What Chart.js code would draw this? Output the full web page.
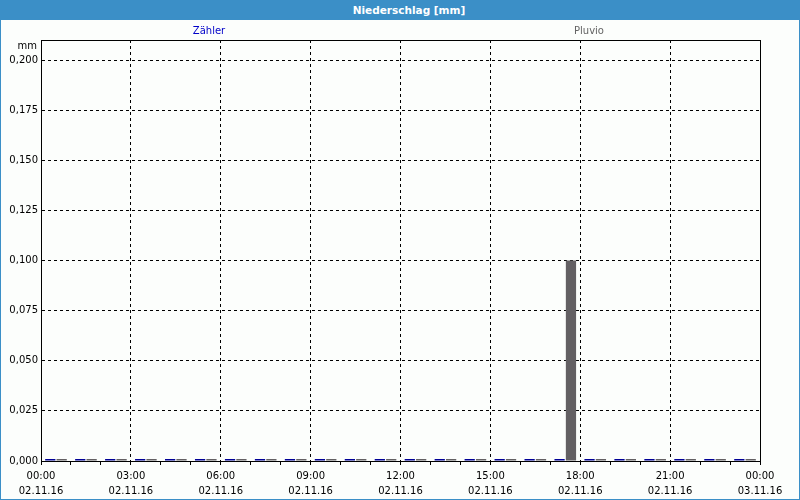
<!DOCTYPE html>
<html>
<head>
<meta charset="utf-8">
<script src="https://cdn.jsdelivr.net/npm/chart.js@4"></script>
<style>
  html, body { margin: 0; padding: 0; background: #fcfefc; }
  #frame { position: relative; width: 800px; height: 500px; box-sizing: border-box; border-left: 1px solid #3b8fc7; border-right: 1px solid #3b8fc7; border-bottom: 1px solid #3b8fc7; overflow: hidden; font-family: "DejaVu Sans", sans-serif; }
  #titlebar { position: absolute; left: 0; top: 0; width: 800px; height: 20px; background: #3b8fc7; z-index: 2; margin-left: -1px; }
  #titletext { position: absolute; left: 409px; top: 0; transform: translateX(-50%); color: #fff; font-weight: bold; font-size: 10.5px; line-height: 20px; white-space: nowrap; }
  .lg { position: absolute; top: 25px; font-size: 10px; transform: translateX(-50%); white-space: nowrap; z-index: 2; }
  #unit { position: absolute; top: 40px; right: 762px; font-size: 10px; z-index: 2; }
  #c { position: absolute; left: -1px; top: 0; }
</style>
</head>
<body>
<div id="frame">
  <div id="titlebar"><span id="titletext">Niederschlag [mm]</span></div>
  <div class="lg" id="lg0" style="left:208px;color:#0000c8">Zähler</div>
  <div class="lg" id="lg1" style="left:588px;color:#646464">Pluvio</div>
  <div id="unit">mm</div>
  <canvas id="c" width="800" height="500"></canvas>
</div>
<script>
// ---- data ----
const hourStart = [0,1,2,3,4,5,6,7,8,9,10,11,12,13,14,15,16,17,18,19,20,21,22,23];
const zaehler = [0,0,0,0,0,0,0,0,0,0,0,0,0,0,0,0,0,0,0,0,0,0,0,0];
const pluvio  = [0,0,0,0,0,0,0,0,0,0,0,0,0,0,0,0,0,0.1,0,0,0,0,0,0];
const seriesNames = ['Zähler', 'Pluvio'];
const xTimeLabels = ['00:00','03:00','06:00','09:00','12:00','15:00','18:00','21:00','00:00'];
const xDateLabels = ['02.11.16','02.11.16','02.11.16','02.11.16','02.11.16','02.11.16','02.11.16','02.11.16','03.11.16'];
const yTickLabels = ['0,000','0,025','0,050','0,075','0,100','0,125','0,150','0,175','0,200'];

const toPts = arr => arr.map((v, i) => ({ x: hourStart[i] + 0.5, y: v }));

const frameBox = {
  id: 'frameBox',
  afterDraw(chart) {
    const a = chart.chartArea, ctx = chart.ctx;
    ctx.save();
    ctx.strokeStyle = '#000';
    ctx.lineWidth = 1;
    ctx.setLineDash([]);
    ctx.strokeRect(Math.round(a.left) + 0.5, Math.round(a.top) + 0.5, Math.round(a.right - a.left), Math.round(a.bottom - a.top));
    ctx.restore();
  }
};

const font = { family: '"DejaVu Sans", sans-serif', size: 10, lineHeight: 1.5 };

new Chart(document.getElementById('c'), {
  type: 'bar',
  data: {
    datasets: [
      { label: seriesNames[0], data: toPts(zaehler), backgroundColor: '#000096', minBarLength: 2 },
      { label: seriesNames[1], data: toPts(pluvio), backgroundColor: '#636063', minBarLength: 2 }
    ]
  },
  options: {
    responsive: false,
    animation: false,
    categoryPercentage: 0.76,
    barPercentage: 0.9,
    layout: { padding: { top: 40, right: 40, left: 0, bottom: 0 } },
    plugins: { legend: { display: false }, tooltip: { enabled: false }, title: { display: false } },
    scales: {
      x: {
        type: 'linear',
        offset: false,
        min: 0, max: 24,
        afterFit(s) { s.height = 39; },
        ticks: {
          stepSize: 1, autoSkip: false, maxRotation: 0, padding: 4,
          color: '#000', font: font,
          callback: (v) => (v % 3 === 0) ? [xTimeLabels[v / 3], xDateLabels[v / 3]] : ''
        },
        grid: {
          offset: false,
          color: (ctx) => (ctx.tick && ctx.tick.value % 3 === 0 && ctx.tick.value !== 0 && ctx.tick.value !== 24) ? '#000' : 'rgba(0,0,0,0)',
          tickColor: '#000', tickLength: 4, tickBorderDash: [], drawTicks: true, lineWidth: 1
        },
        border: { display: true, color: '#000', dash: [3, 3] }
      },
      y: {
        min: 0, max: 0.21,
        afterFit(s) { s.width = 41; },
        ticks: {
          stepSize: 0.025, includeBounds: false, padding: 3,
          color: '#000', font: { family: '"DejaVu Sans", sans-serif', size: 10 },
          callback: (v, i) => yTickLabels[i]
        },
        grid: {
          color: (ctx) => (ctx.tick && ctx.tick.value !== 0) ? '#000' : 'rgba(0,0,0,0)',
          drawTicks: false, lineWidth: 1
        },
        border: { display: true, color: '#000', dash: [3, 3] }
      }
    }
  },
  plugins: [frameBox]
});
</script>
</body>
</html>
